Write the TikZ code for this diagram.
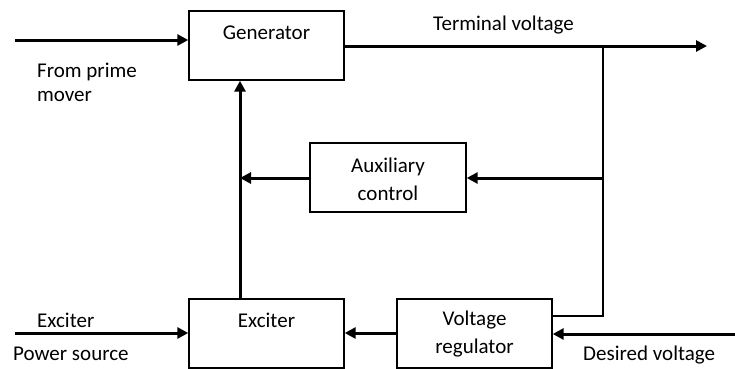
\documentclass[tikz,border=0pt]{standalone}
\usepackage{fontspec}
\setmainfont{Carlito}
\usetikzlibrary{arrows.meta}
\begin{document}
\begin{tikzpicture}[x=1pt,y=-1pt,
  blk/.style={draw,line width=1.4pt,inner sep=0pt},
  sig/.style={line width=3pt,-{Triangle[length=11pt,width=11pt]}},
  thin/.style={line width=1.6pt},
  lbl/.style={font=\fontsize{21}{28}\selectfont,inner sep=0pt},
  every node/.style={font=\fontsize{21}{28}\selectfont}]
\useasboundingbox (0,0) rectangle (735,368);
% boxes
\node[blk,minimum width=155pt,minimum height=69pt] (gen) at (266.5,45.5) {};
\node[lbl] at (266.5,33) {Generator};
\node[blk,minimum width=156pt,minimum height=69pt] (aux) at (388,177.5) {};
\node[lbl,align=center] at (388,179) {Auxiliary\\control};
\node[blk,minimum width=155pt,minimum height=69pt] (exc) at (266.5,333.5) {};
\node[lbl] at (266.5,320) {Exciter};
\node[blk,minimum width=155pt,minimum height=69pt] (vr) at (474.5,333.5) {};
\node[lbl,align=center] at (474.5,334) {Voltage\\regulator};
% coordinates
\coordinate (pmIn) at (15,40);
\coordinate (outEnd) at (707,46);
\coordinate (tap) at (603,46);
\coordinate (tapAux) at (603,178);
\coordinate (tapVR) at (603,316);
\coordinate (exIn) at (15,333);
\coordinate (desIn) at (735,334);
\coordinate (junc) at (240,178);
% connectors
\draw[sig] (pmIn) -- (gen.west |- pmIn);
\draw[sig] (gen.east |- outEnd) -- (outEnd);
\draw[thin] (tap) -- (tapVR) -- (vr.east |- tapVR);
\draw[sig] (tapAux) -- (aux.east |- tapAux);
\draw[sig] (aux.west |- junc) -- (junc);
\draw[sig] (exc.north -| junc) -- (gen.south -| junc);
\draw[sig] (vr.west |- exIn) -- (exc.east |- exIn);
\draw[sig] (exIn) -- (exc.west |- exIn);
\draw[sig] (desIn) -- (vr.east |- desIn);
% labels
\node[lbl,anchor=west] at (37,72) {From prime};
\node[lbl,anchor=west] at (37,96) {mover};
\node[lbl,anchor=west] at (433,25) {Terminal voltage};
\node[lbl,anchor=west] at (37,320) {Exciter};
\node[lbl,anchor=west] at (13,354) {Power source};
\node[lbl,anchor=west] at (583,355) {Desired voltage};
\end{tikzpicture}
\end{document}
